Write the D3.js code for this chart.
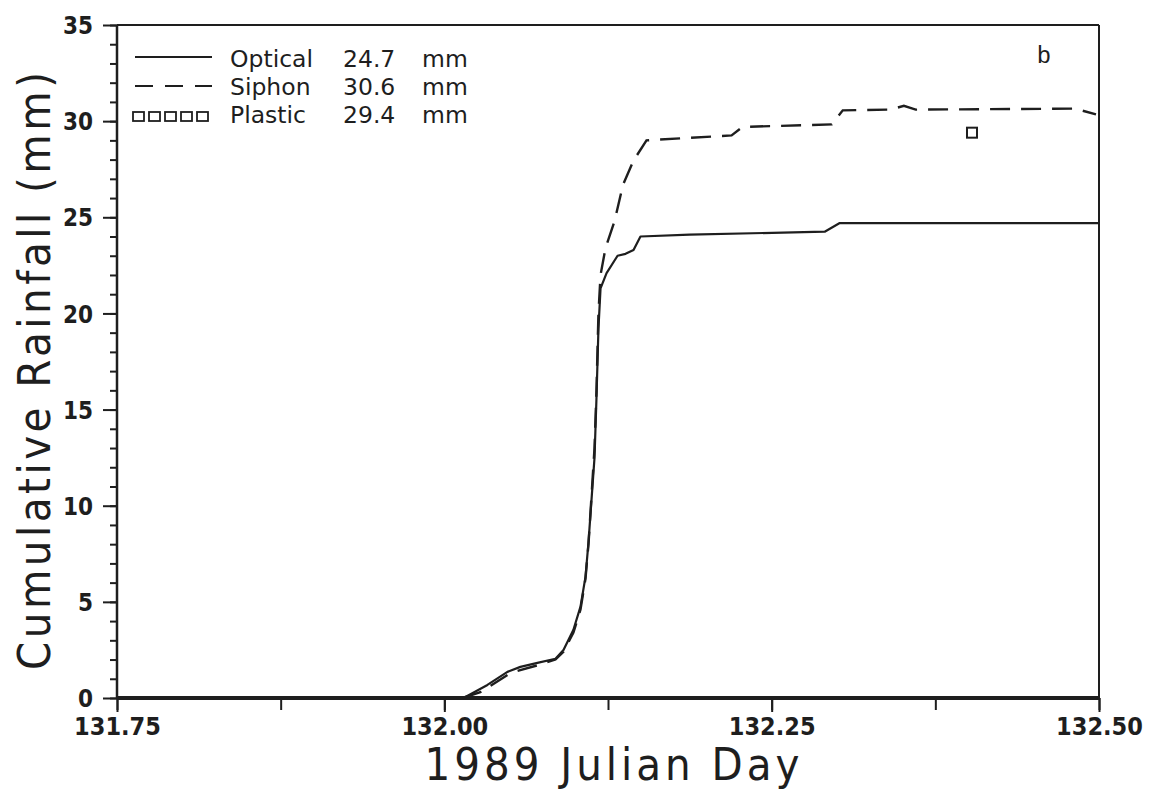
<!DOCTYPE html>
<html><head><meta charset="utf-8">
<script src="https://cdn.jsdelivr.net/npm/d3@7"></script>
<style>body{margin:0;background:#fff}svg{display:block}</style>
</head><body>
<script>
// ---- data ----
const opticalDay = [132.0138,132.0161,132.0329,132.0482,132.0581,132.0711,132.0849,132.0910,132.0986,132.1040,132.1078,132.1101,132.1124,132.1147,132.1162,132.1177,132.1193,132.1239,132.1323,132.1384,132.1445,132.1498,132.1873,132.2905,132.3020,132.5];
const opticalMM  = [0,0.05,0.68,1.36,1.62,1.83,2.04,2.5,3.55,4.75,6.3,8.1,10.3,12.5,15.6,19.2,21.3,22.1,23.0,23.1,23.3,24.0,24.1,24.25,24.7,24.7];
const siphonDay = [132.0138,132.0275,132.0505,132.0711,132.0849,132.0910,132.0986,132.1040,132.1078,132.1101,132.1124,132.1147,132.1162,132.1177,132.1193,132.1231,132.1300,132.1365,132.1445,132.1544,132.2194,132.2278,132.2959,132.3043,132.341,132.351,132.360,132.4817,132.4977];
const siphonMM  = [0,0.3,1.3,1.7,2.0,2.4,3.4,4.6,6.2,8.0,10.5,13,16,20,22.0,23.4,24.8,26.7,27.95,29.0,29.26,29.7,29.83,30.56,30.6,30.8,30.6,30.65,30.35];
const plasticDay = [132.403];
const plasticMM  = [29.4];
const legendLabels = ["Optical","Siphon","Plastic"];
const legendTotals = ["24.7","30.6","29.4"];
const xTickLabels = ["131.75","132.00","132.25","132.50"];
const yTickValues = [0,5,10,15,20,25,30,35];

// ---- layout ----
const W=1152,H=804;
const L=117,R=1099,T=25,B=698;
const ink="#1e1e1e";
const svg=d3.select("body").append("svg").attr("width",W).attr("height",H);
const x=d3.scaleLinear().domain([131.75,132.5]).range([L,R]);
const y=d3.scaleLinear().domain([0,35]).range([B,T]);

// frame
svg.append("line").attr("x1",L).attr("x2",R).attr("y1",T).attr("y2",T).attr("stroke",ink).attr("stroke-width",2);
svg.append("line").attr("x1",R).attr("x2",R).attr("y1",T).attr("y2",B).attr("stroke",ink).attr("stroke-width",2);

// y axis minor ticks
const yMinor=d3.axisLeft(y).tickValues(d3.range(0,36,1)).tickSize(7).tickFormat("");
const gyMinor=svg.append("g").attr("transform",`translate(${L},0)`).call(yMinor);
gyMinor.select(".domain").remove();
gyMinor.selectAll("line").attr("stroke",ink).attr("stroke-width",2);
// y axis major
const yMajor=d3.axisLeft(y).tickValues(yTickValues).tickSize(14).tickPadding(10).tickFormat(d3.format("d"));
const gy=svg.append("g").attr("transform",`translate(${L},0)`).call(yMajor);
gy.select(".domain").attr("stroke",ink).attr("stroke-width",2.5).attr("d",`M0,${B}V${T}`);
gy.selectAll("line").attr("stroke",ink).attr("stroke-width",2);
gy.selectAll("text").attr("font-family","DejaVu Sans Condensed, DejaVu Sans").attr("font-weight","bold").attr("font-size",24).attr("fill",ink).attr("dy","0.36em");

// x axis
const xMinor=d3.axisBottom(x).tickValues(d3.range(0,7).map(i=>131.75+i*0.125)).tickSize(12).tickFormat("");
const gxm=svg.append("g").attr("transform",`translate(0,${B})`).call(xMinor);
gxm.select(".domain").remove();
gxm.selectAll("line").attr("stroke",ink).attr("stroke-width",2);
const xMajor=d3.axisBottom(x).tickValues(xTickLabels.map(Number)).tickSize(14).tickPadding(5).tickFormat((d,i)=>xTickLabels[i]);
const gx=svg.append("g").attr("transform",`translate(0,${B})`).call(xMajor);
gx.select(".domain").attr("stroke",ink).attr("stroke-width",4).attr("d",`M${L},0H${R}`);
gx.selectAll("line").attr("stroke",ink).attr("stroke-width",2);
gx.selectAll("text").attr("font-family","DejaVu Sans Condensed, DejaVu Sans").attr("font-weight","bold").attr("font-size",25).attr("fill",ink);

// axis titles
svg.append("text").attr("x",612).attr("y",780).attr("text-anchor","middle")
  .attr("font-family","DejaVu Sans Condensed, DejaVu Sans").attr("font-size",45).attr("fill",ink)
  .attr("textLength",375).attr("lengthAdjust","spacing").text("1989 Julian Day");
svg.append("text").attr("transform","translate(50,371) rotate(-90)").attr("text-anchor","middle")
  .attr("font-family","DejaVu Sans Condensed, DejaVu Sans").attr("font-size",45).attr("fill",ink)
  .attr("textLength",598).attr("lengthAdjust","spacing").text("Cumulative Rainfall (mm)");

// lines
const line=d3.line().x(d=>x(d[0])).y(d=>y(d[1]));
svg.append("path").datum(opticalDay.map((d,i)=>[d,opticalMM[i]])).attr("d",line)
  .attr("fill","none").attr("stroke",ink).attr("stroke-width",2.2).attr("stroke-linejoin","round");
svg.append("path").datum(siphonDay.map((d,i)=>[d,siphonMM[i]])).attr("d",line)
  .attr("fill","none").attr("stroke",ink).attr("stroke-width",2.4).attr("stroke-dasharray","20,11");
svg.selectAll(".pl").data(plasticDay.map((d,i)=>[d,plasticMM[i]])).enter().append("rect")
  .attr("x",d=>x(d[0])-5).attr("y",d=>y(d[1])-5).attr("width",10).attr("height",10)
  .attr("fill","none").attr("stroke",ink).attr("stroke-width",2);

// legend
const baselines=[67,95,123];
const lg=svg.append("g");
const fs=23.5;
legendLabels.forEach((lab,i)=>{
  const bl=baselines[i];
  if(i===0) lg.append("line").attr("x1",135).attr("x2",212).attr("y1",bl-10).attr("y2",bl-10).attr("stroke",ink).attr("stroke-width",2);
  if(i===1) lg.append("line").attr("x1",135).attr("x2",212).attr("y1",bl-9).attr("y2",bl-9).attr("stroke",ink).attr("stroke-width",2.2).attr("stroke-dasharray","18,12");
  if(i===2) for(let k=0;k<5;k++) lg.append("rect").attr("x",133+k*16).attr("y",bl-11).attr("width",11).attr("height",9).attr("fill","none").attr("stroke",ink).attr("stroke-width",1.8);
  lg.append("text").attr("x",230).attr("y",bl).attr("font-family","DejaVu Sans").attr("font-size",fs).attr("fill",ink).text(lab);
  lg.append("text").attr("x",343).attr("y",bl).attr("font-family","DejaVu Sans").attr("font-size",fs).attr("fill",ink).text(legendTotals[i]);
  lg.append("text").attr("x",422).attr("y",bl).attr("font-family","DejaVu Sans").attr("font-size",fs).attr("fill",ink).text("mm");
});
svg.append("text").attr("x",1044).attr("y",63).attr("text-anchor","middle").attr("font-family","Liberation Mono").attr("font-size",24).attr("fill",ink).text("b");
</script>
</body></html>
